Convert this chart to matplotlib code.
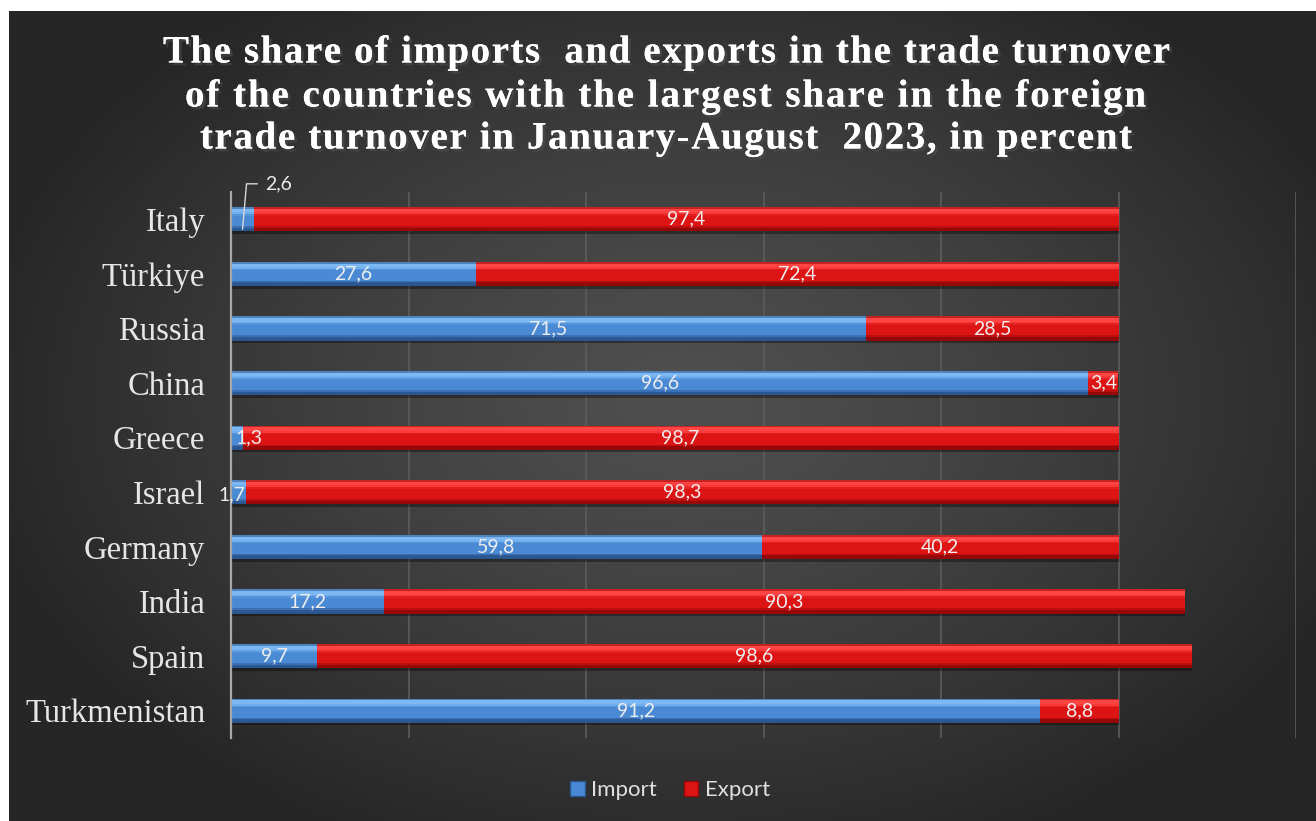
import numpy as np
import matplotlib
matplotlib.use("Agg")
import matplotlib.pyplot as plt
from matplotlib.patches import Patch
from matplotlib.colors import to_rgb
from matplotlib.font_manager import FontProperties
import matplotlib.patheffects as pe

# data
countries = ["Italy", "Türkiye", "Russia", "China", "Greece", "Israel",
             "Germany", "India", "Spain", "Turkmenistan"]
imports = [2.6, 27.6, 71.5, 96.6, 1.3, 1.7, 59.8, 17.2, 9.7, 91.2]
exports = [97.4, 72.4, 28.5, 3.4, 98.7, 98.3, 40.2, 90.3, 98.6, 8.8]

title_lines = ["The share of imports  and exports in the trade turnover",
               "of the countries with the largest share in the foreign",
               "trade turnover in January-August  2023, in percent"]

W, H = 1316, 821
fig = plt.figure(figsize=(W / 100, H / 100), dpi=100)
fig.patch.set_facecolor("white")

# dark background with radial gradient
bg = fig.add_axes([9 / W, 0, 1 - 9 / W, 1 - 11 / H])
bg.set_axis_off()
yy, xx = np.mgrid[0:200, 0:320]
r = np.sqrt(((xx - 165) / 175.0) ** 2 + ((yy - 95) / 120.0) ** 2)
r = np.clip(r, 0, 1)
shade = 0.31 - 0.16 * r ** 1.3
bg.imshow(np.dstack([shade, shade, shade]), aspect="auto", extent=[0, 1, 0, 1])

ax = fig.add_axes([231 / W, 1 - 738 / H, (1296 - 231) / W, (738 - 192) / H])
ax.set_facecolor("none")
ax.set_xlim(0, 120)
ax.set_ylim(9.5, -0.5)

y = np.arange(len(countries))
imp = np.array(imports)
exp_ = np.array(exports)
h = 0.44

# shadow under bars
ax.barh(y + 0.05, imp + exp_, height=h, left=0, color="black", alpha=0.35, zorder=2)


def bevel_bar(left, width, light, base, dark):
    # vertical colour profile: bright rim at top, base in middle, dark at bottom
    stops = [(0.0, dark), (0.08, light), (0.22, light), (0.35, base),
             (0.75, base), (0.9, dark), (1.0, dark)]
    n = 14
    for k in range(n):
        t = (k + 0.5) / n
        for j in range(len(stops) - 1):
            if stops[j][0] <= t <= stops[j + 1][0]:
                f = (t - stops[j][0]) / (stops[j + 1][0] - stops[j][0])
                c0, c1 = np.array(to_rgb(stops[j][1])), np.array(to_rgb(stops[j + 1][1]))
                col = c0 + (c1 - c0) * f
                break
        ax.barh(y - h / 2 + (k + 0.5) * h / n, width, height=h / n * 1.05,
                left=left, color=col, linewidth=0, zorder=3)


bevel_bar(0, imp, "#7cb9f4", "#4a8ad4", "#2a5690")
bevel_bar(imp, exp_, "#ff4444", "#dc1414", "#960707")

lab_kw = dict(color="#eeeeee", fontsize=14, family="Lato", va="center", zorder=6)


def fmt(v):
    return f"{v:.1f}".replace(".", ",")


for i in range(len(countries)):
    # import labels
    if countries[i] == "Italy":
        ax.plot([1.3, 1.75, 2.95], [i + 0.18, i - 0.65, i - 0.65],
                color="#d8d8d8", lw=1, zorder=6, clip_on=False)
        ax.text(3.9, i - 0.65, fmt(imp[i]), ha="left", clip_on=False, **lab_kw)
    elif countries[i] == "Greece":
        ax.text(0.45, i, fmt(imp[i]), ha="left", **lab_kw)
    elif countries[i] == "Israel":
        ax.text(0.1, i + 0.05, fmt(imp[i]), ha="center", clip_on=False, **lab_kw)
    else:
        ax.text(imp[i] / 2, i, fmt(imp[i]), ha="center", **lab_kw)
    # export labels
    ax.text(imp[i] + exp_[i] / 2, i, fmt(exp_[i]), ha="center", **lab_kw)

ax.set_xticks(np.arange(0, 121, 20))
ax.set_xticklabels([])
ax.grid(axis="x", color="#5c5c5c", lw=1.2, zorder=0)
ax.tick_params(axis="both", length=0)
ax.set_yticks(y)
ax.set_yticklabels(countries, family="Liberation Serif", fontsize=23.5,
                   color="#e6e6e6")
ax.tick_params(axis="y", pad=18.5)
for s in ["top", "right", "bottom"]:
    ax.spines[s].set_visible(False)
ax.spines["left"].set_color("#a8a8a8")
ax.spines["left"].set_linewidth(1.6)
ax.spines["left"].set_zorder(5)

# title drawn letter by letter to get the wide letter spacing of the original
renderer = fig.canvas.get_renderer()
tfont = FontProperties(family="Liberation Serif", weight="bold", size=28)
title_y = [53, 97, 139]
title_span = [(163, 1170), (185, 1146), (200, 1132)]
for line, ty, (x0, x1) in zip(title_lines, title_y, title_span):
    widths = [renderer.get_text_width_height_descent(ch, tfont, ismath=False)[0]
              for ch in line]
    gap = (x1 - x0 - sum(widths)) / (len(line) - 1)
    x = x0
    for ch, wd in zip(line, widths):
        if ch != " ":
            fig.text(x / W, 1 - ty / H, ch, ha="left", va="center",
                     color="white", fontproperties=tfont,
                     path_effects=[pe.withSimplePatchShadow(offset=(2, -2), alpha=0.6),
                                   pe.Normal()])
        x += wd + gap

handles = [Patch(facecolor="#4a8ad4", edgecolor="#2a5690"),
           Patch(facecolor="#dc1414", edgecolor="#960707")]
leg = fig.legend(handles, ["Import", "Export"], loc="center",
                 bbox_to_anchor=(670 / W, 1 - 790 / H), ncol=2, frameon=False,
                 handlelength=0.65, handleheight=0.65, handletextpad=0.3,
                 columnspacing=1.2, prop={"family": "Lato", "size": 16})
for t in leg.get_texts():
    t.set_color("#e0e0e0")

fig.savefig("out.png", dpi=100, facecolor=fig.get_facecolor())
